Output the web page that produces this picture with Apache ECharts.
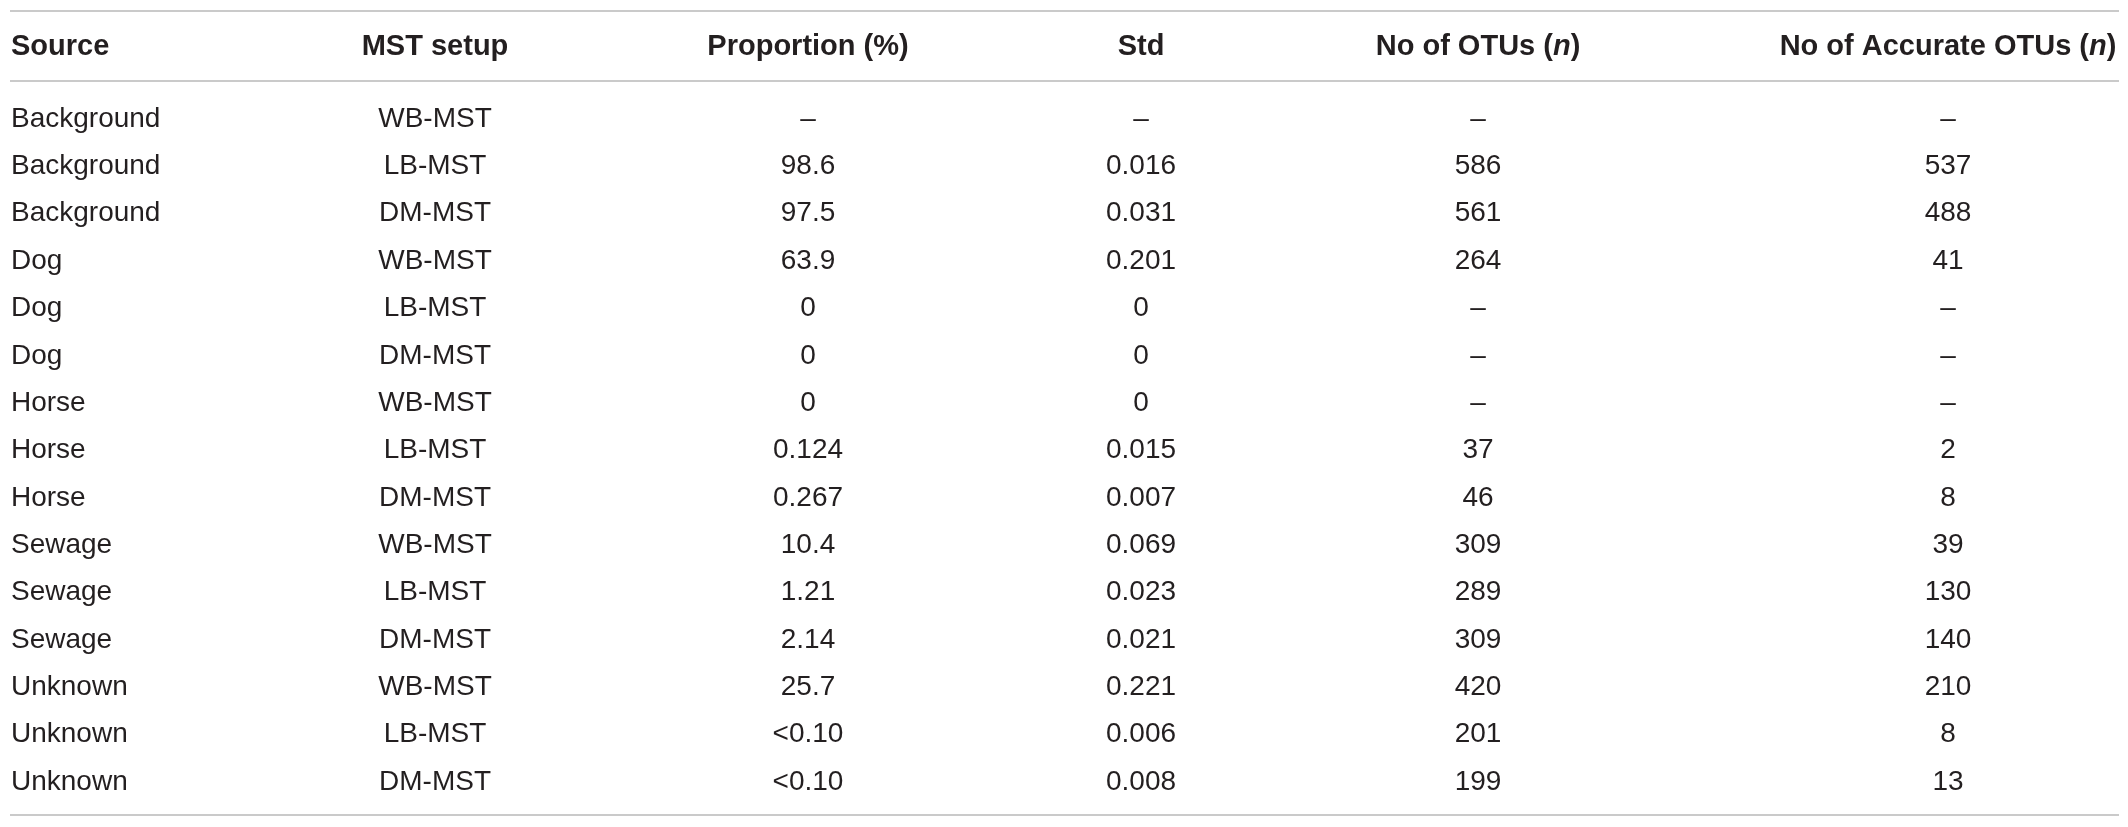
<!DOCTYPE html>
<html lang="en">
<head>
    <meta charset="UTF-8">
    <title>MST source proportions</title>
    <script src="https://cdn.jsdelivr.net/npm/echarts@6/dist/echarts.min.js"></script>
</head>
<style>
    *{
        margin: 0;
        padding: 0;
    }
    html,body{
        width: 100%;
        height: 100%;
        overflow: hidden;
        background: #fff;
    }
    .container{
        width: 2128px;
        height: 827px;
    }
</style>
<body>
<div class="container"></div>
<script>
    // table content
    let headers = ['Source', 'MST setup', 'Proportion (%)', 'Std', 'No of OTUs ({i|n})', 'No of Accurate OTUs ({i|n})'];
    let sources = ['Background', 'Background', 'Background', 'Dog', 'Dog', 'Dog', 'Horse', 'Horse', 'Horse',
        'Sewage', 'Sewage', 'Sewage', 'Unknown', 'Unknown', 'Unknown'];
    let setups = ['WB-MST', 'LB-MST', 'DM-MST', 'WB-MST', 'LB-MST', 'DM-MST', 'WB-MST', 'LB-MST', 'DM-MST',
        'WB-MST', 'LB-MST', 'DM-MST', 'WB-MST', 'LB-MST', 'DM-MST'];
    let proportion = ['–', '98.6', '97.5', '63.9', '0', '0', '0', '0.124', '0.267', '10.4', '1.21', '2.14', '25.7', '<0.10', '<0.10'];
    let std = ['–', '0.016', '0.031', '0.201', '0', '0', '0', '0.015', '0.007', '0.069', '0.023', '0.021', '0.221', '0.006', '0.008'];
    let otus = ['–', '586', '561', '264', '–', '–', '–', '37', '46', '309', '289', '309', '420', '201', '199'];
    let accurateOtus = ['–', '537', '488', '41', '–', '–', '–', '2', '8', '39', '130', '140', '210', '8', '13'];

    // layout: column anchors on the x axis, header row and rule rows on the y axis
    let colX = [1, 425, 798, 1131, 1468, 1938];
    let headerRow = -1.527;
    let ruleRows = [-2.287, -0.802, 14.696];

    let columns = [sources, setups, proportion, std, otus, accurateOtus];
    let textColor = '#231f20';
    let font = '"Liberation Sans", Arial, sans-serif';

    let container = document.querySelector('.container');
    let mycharts = echarts.init(container);

    let series = columns.map((col, c) => {
        let data = [{
            value: [colX[c], headerRow, headers[c]],
            label: {fontWeight: 'bold', fontSize: 29}
        }];
        col.forEach((v, i) => data.push([colX[c], i, v]));
        let obj = {
            type: 'scatter',
            symbolSize: 0,
            silent: true,
            itemStyle: {opacity: 1},
            data: data,
            label: {
                show: true,
                position: 'inside',
                align: c == 0 ? 'left' : 'center',
                verticalAlign: 'middle',
                fontFamily: font,
                fontSize: 28,
                color: textColor,
                opacity: 1,
                formatter: function (p) {
                    return p.data.value ? p.data.value[2] : p.data[2];
                },
                rich: {
                    i: {
                        fontFamily: font,
                        fontSize: 29,
                        fontWeight: 'bold',
                        fontStyle: 'italic',
                        color: textColor
                    }
                }
            },
            emphasis: {disabled: true}
        };
        if (c == 0) {
            obj.markLine = {
                silent: true,
                symbol: 'none',
                label: {show: false},
                lineStyle: {color: '#b9b9b9', width: 1.5, type: 'solid', opacity: 1},
                data: ruleRows.map(r => ({yAxis: r}))
            };
        }
        return obj;
    });

    let options = {
        animation: false,
        grid: {left: 10, right: 9, top: 5.34, bottom: 7.07},
        xAxis: {type: 'value', min: 0, max: 2109, show: false},
        yAxis: {type: 'value', inverse: true, min: -2.4, max: 14.8, show: false},
        series
    };
    mycharts.setOption(options);
</script>
</body>
</html>
